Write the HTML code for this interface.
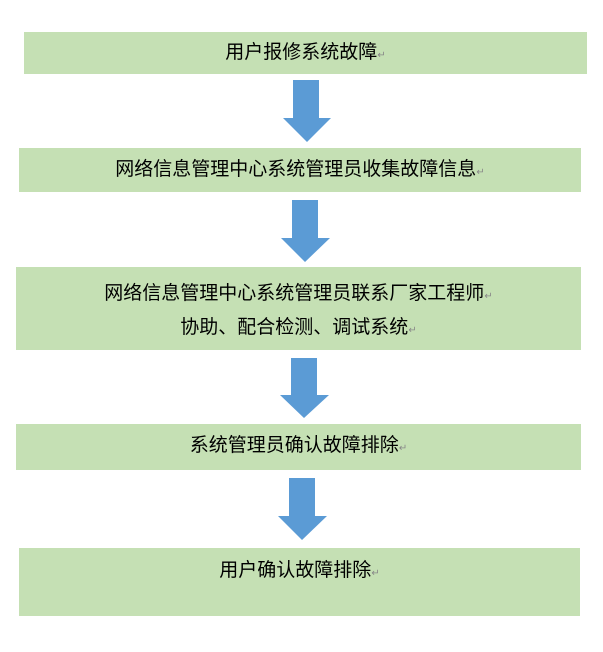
<!DOCTYPE html>
<html><head><meta charset="utf-8"><style>
body{margin:0;width:603px;height:652px;background:#fff;position:relative;font-family:"Liberation Sans","Noto Sans CJK SC",sans-serif;overflow:hidden}
.b{position:absolute;background:#c5e0b4;color:#000;font-size:19px;line-height:24px;text-align:center}
.b span{position:absolute;left:0;right:0;white-space:nowrap}
.r{color:#888;font-size:10px;font-style:normal}
svg{position:absolute;left:0;top:0}
</style></head><body>
<div class="b" style="left:24px;top:32px;width:563px;height:42px"><span style="top:9px">用户报修系统故障<i class="r">↵</i></span></div>
<div class="b" style="left:19px;top:148px;width:562px;height:44px"><span style="top:10px">网络信息管理中心系统管理员收集故障信息<i class="r">↵</i></span></div>
<div class="b" style="left:16px;top:267px;width:565px;height:83px"><span style="top:15px">网络信息管理中心系统管理员联系厂家工程师<i class="r">↵</i></span><span style="top:49px">协助、配合检测、调试系统<i class="r">↵</i></span></div>
<div class="b" style="left:16px;top:424px;width:565px;height:46px"><span style="top:10px">系统管理员确认故障排除<i class="r">↵</i></span></div>
<div class="b" style="left:19px;top:548px;width:561px;height:68px"><span style="top:11px">用户确认故障排除<i class="r">↵</i></span></div>
<svg width="603" height="652">
<g fill="#5b9bd5">
<polygon points="293,80 319,80 319,118 331,118 307,142 283,118 293,118"/>
<polygon points="292,200 318,200 318,238 330,238 305,262 281,238 292,238"/>
<polygon points="291,358 317,358 317,395 329,395 304,418 280,395 291,395"/>
<polygon points="289,478 315,478 315,516 327,516 302,540 278,516 289,516"/>
</g></svg>
</body></html>
